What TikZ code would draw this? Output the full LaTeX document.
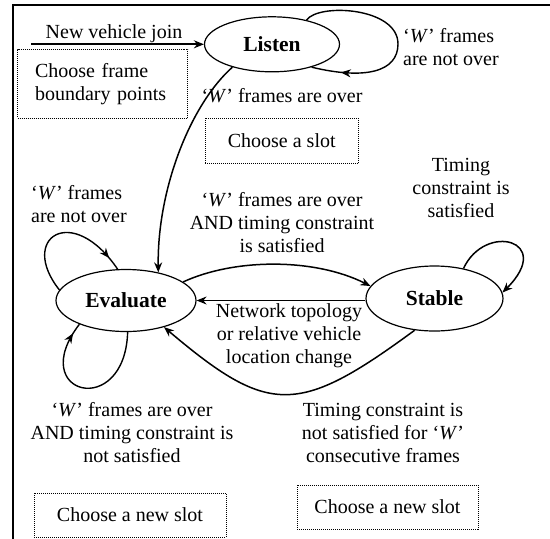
\documentclass[tikz,border=0pt]{standalone}
\usepackage{fontspec}
\setmainfont{Liberation Serif}
\usetikzlibrary{arrows.meta,shapes.geometric,decorations.markings,calc}
\newcommand\mlines[2][c]{\begin{tabular}[t]{@{}#1@{}}#2\end{tabular}}
\begin{document}
\begin{tikzpicture}[x=1pt,y=-1pt,
  state/.style={ellipse,draw,line width=1.2pt,fill=white,inner sep=0pt,
    font=\fontsize{21.5}{24}\selectfont\bfseries},
  edge/.style={line width=1.5pt,-{Stealth[length=10pt,width=8pt]}},
  selfloop/.style={line width=1.4pt},
  arrowat/.style={postaction={decorate},decoration={markings,
    mark=at position #1 with {\arrow{Stealth[length=10pt,width=8pt]}}}},
  lab/.style={inner sep=0pt,anchor=base,font=\fontsize{20}{23}\selectfont},
  labl/.style={inner sep=0pt,anchor=base west,font=\fontsize{20}{23}\selectfont},
  box/.style={draw,densely dotted,line width=1pt,inner sep=0pt,
    font=\fontsize{20}{23}\selectfont}
]
\useasboundingbox (0,0) rectangle (550,539);
% outer frame
\draw[line width=1.5pt] (551,5) -- (13,5) -- (13,540);

% states
\node[state,minimum width=135pt,minimum height=55pt] (listen) at (272,44.3) {Listen};
\node[state,minimum width=140pt,minimum height=62pt] (evaluate) at (126,300.5) {Evaluate};
\node[state,minimum width=137pt,minimum height=65pt] (stable) at (434.5,298.5) {Stable};

% labels
\node[lab] (lnew) at (114,38) {New vehicle join};
\node[labl] (lnotover1) at (403,42) {\mlines[l]{‘\textit{W}’ frames\\are not over}};
\node[lab] (lover) at (282,102) {‘\textit{W}’ frames are over};
\node[lab] (ltiming) at (461,171.5) {\mlines{Timing\\constraint is\\satisfied}};
\node[labl] (lnotover2) at (31,199) {\mlines[l]{‘\textit{W}’ frames\\are not over}};
\node[lab] (lovertc) at (282,206.5) {\mlines{‘\textit{W}’ frames are over\\AND timing constraint\\is satisfied}};
\node[lab] (lnet) at (289,317) {\mlines{Network topology\\or relative vehicle\\location change}};
\node[lab] (lovernot) at (132,416) {\mlines{‘\textit{W}’ frames are over\\AND timing constraint is\\not satisfied}};
\node[lab] (ltcnot) at (383,416) {\mlines{Timing constraint is\\not satisfied for ‘\textit{W}’\\consecutive frames}};

% dotted boxes
\node[box,minimum width=170pt,minimum height=69pt,text width=135pt,align=left,inner xsep=17.5pt] (b1) at (102.5,83.8) {Choose frame\\boundary points};
\node[box,minimum width=153.5pt,minimum height=45pt] (b2) at (281.75,140.8) {Choose a slot};
\node[box,minimum width=192pt,minimum height=44pt] (b3) at (130,515) {Choose a new slot};
\node[box,minimum width=181pt,minimum height=44pt] (b4) at (387.5,507) {Choose a new slot};

% connectors
\coordinate (nvj) at (31,44.3);
\draw[edge,line width=2pt] (nvj) -- (listen.west);

\coordinate (lr) at (398,44);
\draw[selfloop,arrowat=0.86] (listen.35) .. controls (318,3) and (398,7) .. (lr)
  .. controls (398,72) and (365,80) .. (listen.330);

\draw[edge] (listen.210) .. controls (190,105) and (157,190) .. (evaluate.41);

\draw[edge] (evaluate.18) .. controls (235,258) and (315,258) .. (stable.169);
\draw[edge] (stable.west |- evaluate.east) -- (evaluate.east);
\draw[edge] (stable.238) .. controls (298,416) and (269,416) .. (evaluate.325);

\draw[selfloop,arrowat=0.9] (evaluate.171) .. controls (18,238) and (72,202) .. (evaluate.105);
\draw[selfloop,arrowat=0.93] (evaluate.273) .. controls (125,420) and (25,395) .. (evaluate.207);

\draw[edge] (stable.46) .. controls (485,222) and (555,240) .. (stable.5);
\end{tikzpicture}
\end{document}
